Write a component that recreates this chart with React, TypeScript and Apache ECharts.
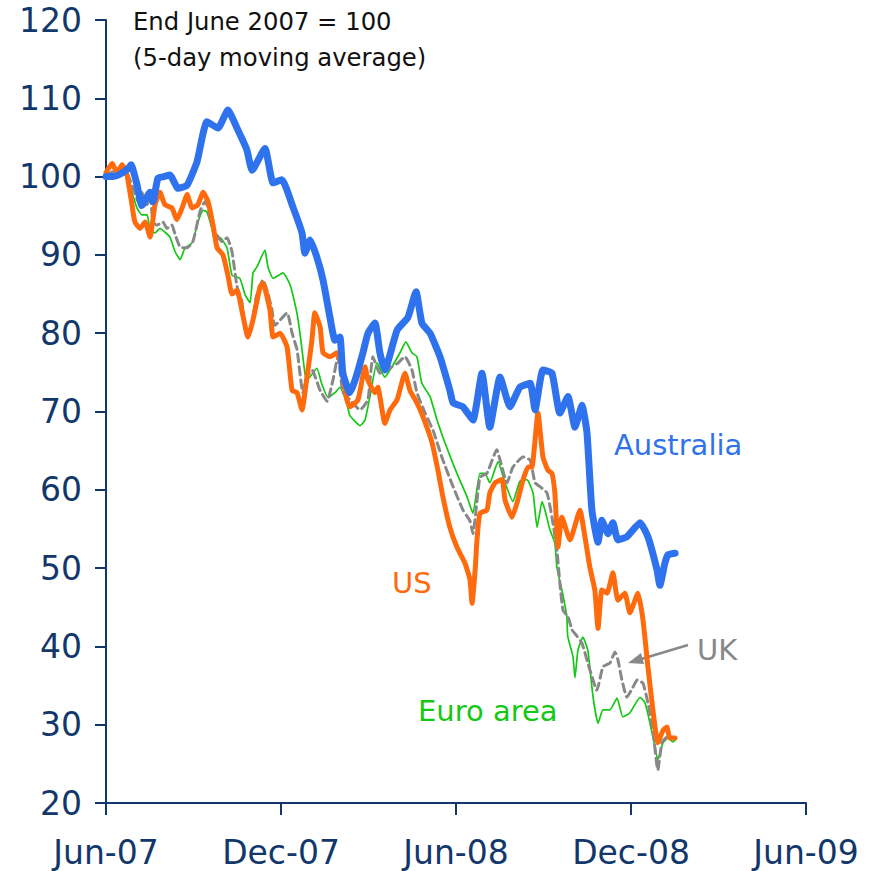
import React, { useEffect, useRef } from "react";
import * as echarts from "echarts";

// x values: months since end June 2007
const xTickLabels = ["Jun-07", "Dec-07", "Jun-08", "Dec-08", "Jun-09"];
const yTicks = [20, 30, 40, 50, 60, 70, 80, 90, 100, 110, 120];

const ausX = [0, 0.24, 0.48, 0.75, 0.86, 1.06, 1.23, 1.51, 1.61, 1.78, 1.99, 2.19, 2.47, 2.78, 3.12, 3.46, 3.84, 4.18, 4.49, 4.83, 5.01, 5.45, 5.73, 6.03, 6.41, 6.72, 6.82, 7.0, 7.23, 7.44, 7.68, 7.85, 8.02, 8.12, 8.36, 8.54, 8.81, 8.98, 9.22, 9.39, 9.56, 9.98, 10.35, 10.63, 10.83, 11.11, 11.45, 11.79, 11.9, 12.24, 12.58, 12.89, 13.16, 13.51, 13.85, 14.19, 14.54, 14.71, 14.98, 15.29, 15.56, 15.84, 16.08, 16.32, 16.49, 16.66, 16.87, 17.0, 17.21, 17.38, 17.55, 17.86, 18.31, 18.58, 18.89, 18.99, 19.16, 19.27, 19.51];
const ausY = [100, 100, 100.3, 101, 101.5, 99, 96.3, 98, 96.8, 99.8, 100, 100.2, 98.5, 98.9, 101.9, 107, 106.2, 108.5, 106.2, 103.4, 100.8, 103.6, 99.2, 99.6, 96.1, 92.8, 90.2, 91.9, 89.7, 86.8, 82, 79.1, 79.5, 74.9, 72.4, 74, 77.5, 80, 81.3, 77.5, 75.3, 80.4, 82, 85.3, 81.3, 80, 77, 72.7, 71.1, 70.6, 68.9, 74.9, 68, 74.4, 70.6, 73.1, 73.6, 70.2, 75.3, 74.9, 69.8, 71.9, 68, 70.8, 67.3, 57.4, 53.3, 56.1, 54.4, 55.8, 53.6, 54, 55.8, 54, 49.8, 47.8, 50.6, 51.7, 51.9];

const usX = [0, 0.21, 0.38, 0.55, 0.72, 0.89, 0.99, 1.17, 1.34, 1.51, 1.68, 1.85, 2.02, 2.26, 2.43, 2.61, 2.78, 2.95, 3.15, 3.33, 3.5, 3.67, 3.81, 4.01, 4.18, 4.32, 4.49, 4.59, 4.87, 5.04, 5.28, 5.38, 5.62, 5.73, 5.97, 6.21, 6.38, 6.55, 6.72, 6.89, 7.06, 7.16, 7.34, 7.44, 7.68, 7.92, 8.09, 8.26, 8.36, 8.64, 8.88, 8.98, 9.22, 9.32, 9.56, 9.74, 9.98, 10.25, 10.42, 10.66, 10.87, 11.18, 11.38, 11.55, 11.79, 12.03, 12.31, 12.48, 12.55, 12.65, 12.72, 12.82, 13.06, 13.16, 13.34, 13.58, 13.68, 13.92, 14.09, 14.3, 14.47, 14.6, 14.81, 14.98, 15.15, 15.29, 15.39, 15.5, 15.63, 15.91, 16.25, 16.42, 16.59, 16.76, 16.87, 17.0, 17.18, 17.38, 17.55, 17.79, 17.96, 18.24, 18.41, 18.58, 18.75, 18.92, 19.1, 19.23, 19.33, 19.51];
const usY = [100.5, 101.7, 100.5, 101.5, 100.2, 96.4, 94.2, 93.4, 94.2, 92.3, 96.4, 98, 96.4, 96, 94.5, 96, 97.7, 96, 96.4, 98, 96.8, 93.8, 90.9, 90, 87.4, 85, 85.5, 84.2, 79.5, 81.7, 85.9, 86.4, 83, 79.5, 80, 78.2, 72.7, 72.4, 70.2, 74.4, 79.1, 82.6, 80.8, 77.5, 77, 77.5, 75.7, 71.5, 70.6, 71.5, 75.7, 74, 72.4, 73.1, 68.5, 70.2, 71.5, 74.9, 72.7, 71.1, 69.3, 66, 62.5, 59.1, 55.2, 52.7, 50.6, 48.5, 45.5, 49.4, 53.6, 57, 57.4, 59.6, 60.9, 61.3, 58.7, 56.5, 58.3, 61.3, 62.9, 62.9, 69.8, 64.2, 62.5, 62.1, 59.6, 52.7, 56.5, 53.6, 57.4, 54, 50.1, 47.2, 42.3, 47.2, 46.8, 49.4, 45.9, 46.8, 44.3, 46.8, 43.4, 37.4, 31.9, 27.7, 29.3, 29.7, 28.3, 28.3];

const ukX = [0, 0.21, 0.58, 0.75, 0.93, 1.1, 1.23, 1.41, 1.51, 1.61, 1.75, 1.95, 2.09, 2.26, 2.37, 2.54, 2.78, 2.98, 3.22, 3.39, 3.5, 3.63, 3.81, 3.98, 4.15, 4.32, 4.49, 4.66, 4.77, 4.94, 5.15, 5.38, 5.55, 5.69, 5.79, 6.21, 6.38, 6.55, 6.75, 6.89, 7.06, 7.34, 7.58, 7.78, 7.95, 8.12, 8.36, 8.71, 8.98, 9.15, 9.39, 9.63, 10.01, 10.25, 10.49, 10.66, 10.94, 11.21, 11.55, 11.9, 12.24, 12.48, 12.58, 12.82, 13.06, 13.4, 13.51, 13.75, 13.95, 14.3, 14.54, 14.71, 14.88, 15.12, 15.29, 15.46, 15.56, 15.67, 15.84, 15.98, 16.15, 16.32, 16.59, 16.83, 17.04, 17.28, 17.45, 17.55, 17.69, 17.86, 18.07, 18.21, 18.41, 18.58, 18.75, 18.92, 19.06, 19.23, 19.41, 19.51];
const ukY = [100, 100.6, 101, 100.2, 98.5, 96.8, 98, 96.4, 97.7, 94.2, 93.8, 94.2, 93.4, 93.8, 92.6, 91, 90.9, 91.7, 95.5, 96.8, 96.1, 93.8, 92.5, 91.7, 92.2, 90.4, 86, 84, 80.5, 80.4, 84.6, 86.8, 85.1, 83, 81, 82.6, 80, 77.9, 72.4, 74.5, 75.3, 72.7, 71.3, 74, 77, 72.5, 71.5, 70.2, 71.5, 77, 74.9, 75.3, 76.2, 77, 75.3, 72.4, 69.8, 67.6, 63.8, 60.4, 57.4, 56, 54.4, 61.6, 62.1, 65.1, 63.8, 60.9, 62.9, 64.2, 63.8, 60.9, 60.4, 59.6, 56.5, 52.3, 48.1, 44.6, 43.8, 42.1, 41.3, 40.4, 37, 34.4, 37.4, 37.9, 39.3, 38.3, 35.7, 33.5, 34.8, 35.7, 35.3, 32.8, 29.3, 24.2, 27.7, 28.4, 28.4, 28.3];

const euX = [0, 0.24, 0.55, 0.72, 0.89, 1.06, 1.23, 1.41, 1.51, 1.68, 1.85, 2.02, 2.19, 2.37, 2.54, 2.71, 2.88, 2.98, 3.15, 3.33, 3.46, 3.63, 3.74, 3.91, 4.15, 4.32, 4.59, 4.77, 4.94, 5.04, 5.18, 5.45, 5.55, 5.73, 6.07, 6.31, 6.55, 6.65, 6.82, 6.89, 7.23, 7.4, 7.61, 7.85, 8.02, 8.26, 8.36, 8.71, 8.88, 9.05, 9.29, 9.56, 9.8, 10.08, 10.28, 10.49, 10.66, 10.83, 11.11, 11.35, 11.62, 12.03, 12.38, 12.58, 12.82, 12.99, 13.16, 13.44, 13.68, 13.95, 14.19, 14.43, 14.64, 14.78, 14.95, 15.05, 15.22, 15.39, 15.46, 15.63, 15.8, 15.83, 16.01, 16.08, 16.18, 16.35, 16.52, 16.7, 16.87, 17.04, 17.28, 17.52, 17.72, 17.96, 18.31, 18.48, 18.65, 18.82, 18.92, 19.1, 19.27, 19.44, 19.51];
const euY = [100.2, 100.6, 100.8, 100.3, 98, 96, 95.1, 95.1, 93.2, 92.8, 93.4, 92.9, 92.3, 90.4, 89.4, 90.9, 91.3, 91.7, 94.2, 95.7, 95.5, 93.4, 91.7, 92.2, 90.9, 87.4, 87, 84.9, 83.9, 87.7, 88.5, 90.6, 88.5, 87, 87.7, 86.2, 82.5, 80, 74.9, 74, 75.5, 73.5, 71.8, 72.4, 73.1, 71, 69.5, 68.2, 68.9, 71.9, 76.2, 74.4, 75.7, 77.5, 78.9, 77.5, 77, 73.6, 71.9, 68.9, 66, 62.1, 59.1, 57, 62.1, 62.1, 60.9, 63.6, 60.9, 58.5, 61.1, 61.3, 59.6, 55.2, 58.5, 57.4, 54.9, 53.2, 50.1, 47.2, 43.8, 41.3, 38.7, 36, 39.5, 41.2, 39.5, 33.5, 30.2, 31.9, 31.9, 33.4, 31, 31.5, 33.5, 32.8, 30.2, 27.2, 25.5, 27.7, 28.3, 27.8, 28];

const pairs = (xs: number[], ys: number[]) => xs.map((x, i) => [x, ys[i]]);

const NAVY = "#12386b";
const FONT = "DejaVu Sans";

export default function App() {
  const ref = useRef<HTMLDivElement>(null);
  useEffect(() => {
    if (!ref.current) return;
    const chart = echarts.init(ref.current, undefined, { renderer: "svg" });
    const line = (name: string, xs: number[], ys: number[], color: string, width: number, type: any = "solid") => ({
      name,
      type: "line",
      data: pairs(xs, ys),
      showSymbol: false,
      symbol: "none",
      smooth: 0.15,
      lineStyle: { color, width, type, cap: "round", join: "round" },
      silent: true,
    });
    chart.setOption({
      animation: false,
      backgroundColor: "#ffffff",
      grid: { left: 106, top: 20, right: 70, bottom: 68, containLabel: false },
      xAxis: {
        type: "value",
        min: 0,
        max: 24,
        interval: 6,
        axisLine: { lineStyle: { color: NAVY, width: 2 } },
        axisTick: { show: true, length: 12, lineStyle: { color: NAVY, width: 2 } },
        splitLine: { show: false },
        axisLabel: {
          color: NAVY,
          fontSize: 33,
          fontFamily: FONT,
          margin: 33,
          formatter: (v: number) => xTickLabels[Math.round(v / 6)] ?? "",
        },
      },
      yAxis: {
        type: "value",
        min: yTicks[0],
        max: yTicks[yTicks.length - 1],
        interval: 10,
        axisLine: { show: true, lineStyle: { color: NAVY, width: 2 } },
        axisTick: { show: true, length: 11, lineStyle: { color: NAVY, width: 2 } },
        splitLine: { show: false },
        axisLabel: { color: NAVY, fontSize: 33, fontFamily: FONT, margin: 24 },
      },
      series: [
        line("Euro area", euX, euY, "#14c814", 1.7),
        line("UK", ukX, ukY, "#888888", 3, [8, 5]),
        line("US", usX, usY, "#ff6a0d", 5),
        line("Australia", ausX, ausY, "#2f72ee", 7),
      ],
      graphic: [
        { type: "text", left: 133, top: 9, style: { text: "End June 2007 = 100", fill: "#111", fontSize: 24.3, fontFamily: FONT } },
        { type: "text", left: 133, top: 45, style: { text: "(5-day moving average)", fill: "#111", fontSize: 24.3, fontFamily: FONT } },
        { type: "text", left: 614, top: 430, style: { text: "Australia", fill: "#2f72ee", fontSize: 29, fontFamily: FONT } },
        { type: "text", left: 392, top: 568, style: { text: "US", fill: "#ff6a0d", fontSize: 29, fontFamily: FONT } },
        { type: "text", left: 697, top: 635, style: { text: "UK", fill: "#888888", fontSize: 29, fontFamily: FONT } },
        { type: "text", left: 418, top: 696, style: { text: "Euro area", fill: "#14c814", fontSize: 29, fontFamily: FONT } },
        { type: "line", shape: { x1: 688, y1: 645, x2: 638, y2: 660 }, style: { stroke: "#888888", lineWidth: 2.5 } },
        { type: "polygon", shape: { points: [[628, 663], [641, 653], [644, 664]] }, style: { fill: "#888888" } },
      ],
    });
    return () => chart.dispose();
  }, []);
  return <div ref={ref} style={{ position: "fixed", left: 0, top: 0, width: 876, height: 871 }} />;
}
